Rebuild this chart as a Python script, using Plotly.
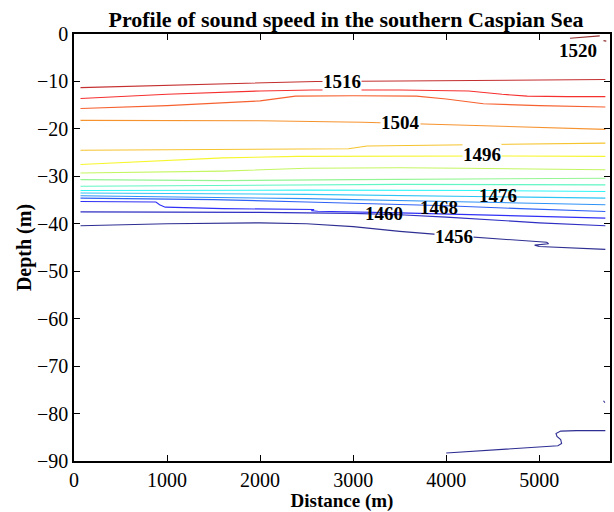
import plotly.graph_objects as go

# ---- data (distance in m, depth in m) ----
dist_1520 = [5330, 5500, 5650]
depth_1520 = [-0.9, -0.6, -0.4]
dist_1520b = [5690, 5720]
depth_1520b = [-1.4, -1.5]

dist_1516 = [70, 1000, 2000, 2600, 3500, 4500, 5710]
depth_1516 = [-11.3, -10.8, -10.3, -10.0, -9.9, -9.8, -9.6]

dist_1512 = [70, 1000, 2000, 2560, 3500, 4240, 4600, 4870, 5300, 5710]
depth_1512 = [-13.6, -12.7, -12.0, -11.8, -11.8, -12.0, -12.7, -13.1, -13.2, -13.2]

dist_1508 = [70, 1000, 2000, 2380, 3000, 3680, 4000, 4400, 5000, 5710]
depth_1508 = [-15.7, -15.1, -14.1, -13.1, -13.0, -13.1, -13.7, -14.7, -15.1, -15.4]

dist_1504 = [70, 1000, 2000, 3100, 3500, 4500, 5710]
depth_1504 = [-18.2, -18.2, -18.3, -18.6, -18.8, -19.4, -20.1]

dist_1500 = [70, 1500, 2500, 2950, 3150, 4000, 5000, 5710]
depth_1500 = [-24.5, -24.4, -24.3, -24.2, -23.6, -23.4, -23.2, -23.0]

dist_1496 = [70, 800, 1600, 2400, 3500, 4500, 5710]
depth_1496 = [-27.5, -26.8, -26.1, -25.8, -25.7, -25.7, -25.8]

dist_1492 = [70, 1600, 2500, 3500, 4200, 5000, 5710]
depth_1492 = [-29.3, -28.9, -28.3, -28.2, -28.3, -28.5, -28.6]

dist_1488 = [70, 1600, 3000, 4500, 5710]
depth_1488 = [-30.7, -30.9, -30.7, -30.5, -30.4]

dist_1484 = [70, 1600, 3500, 5710]
depth_1484 = [-32.1, -31.9, -31.7, -31.8]

dist_1480 = [70, 2500, 4500, 5710]
depth_1480 = [-33.0, -32.9, -33.0, -33.2]

dist_1476 = [70, 2500, 4500, 5710]
depth_1476 = [-33.5, -33.8, -34.3, -34.6]

dist_1472 = [70, 2500, 4000, 5710]
depth_1472 = [-34.1, -34.7, -35.3, -36.0]

dist_1468 = [70, 1500, 2500, 3500, 4000, 4800, 5710]
depth_1468 = [-34.6, -34.9, -35.4, -35.9, -36.2, -36.8, -37.4]

dist_1464 = [70, 880, 920, 980, 1600, 2500, 2580, 2550, 2620, 3500, 4500, 5710]
depth_1464 = [-35.3, -35.4, -36.0, -36.5, -36.8, -36.9, -37.0, -37.25, -37.35, -37.7, -38.2, -38.8]

dist_1460 = [70, 1000, 2000, 3000, 3500, 4000, 4500, 5000, 5710]
depth_1460 = [-37.5, -37.5, -37.6, -37.8, -38.1, -38.6, -39.2, -39.8, -40.4]

dist_1456 = [70, 1000, 2000, 2500, 3000, 3500, 4000, 4500, 4900, 5080, 5100, 4950, 5000, 5400, 5710]
depth_1456 = [-40.4, -40.0, -39.8, -40.0, -40.6, -41.6, -42.4, -43.1, -43.6, -43.9, -44.2, -44.5, -44.8, -45.1, -45.4]

dist_1456_deep = [4000, 5200, 5240, 5230, 5190, 5180, 5230, 5400, 5710]
depth_1456_deep = [-88.3, -86.8, -86.3, -85.5, -84.8, -84.2, -83.7, -83.6, -83.6]

dist_1456_dot = [5690, 5705]
depth_1456_dot = [-77.3, -77.7]

contour_levels = [1520, 1520, 1516, 1512, 1508, 1504, 1500, 1496, 1492, 1488,
                  1484, 1480, 1476, 1472, 1468, 1464, 1460, 1456, 1456, 1456]
contour_dist = [dist_1520, dist_1520b, dist_1516, dist_1512, dist_1508, dist_1504,
                dist_1500, dist_1496, dist_1492, dist_1488, dist_1484, dist_1480,
                dist_1476, dist_1472, dist_1468, dist_1464, dist_1460, dist_1456,
                dist_1456_deep, dist_1456_dot]
contour_depth = [depth_1520, depth_1520b, depth_1516, depth_1512, depth_1508, depth_1504,
                 depth_1500, depth_1496, depth_1492, depth_1488, depth_1484, depth_1480,
                 depth_1476, depth_1472, depth_1468, depth_1464, depth_1460, depth_1456,
                 depth_1456_deep, depth_1456_dot]

label_text = ["1520", "1516", "1504", "1496", "1476", "1468", "1460", "1456"]
label_dist = [5420, 2880, 3510, 4380, 4560, 3920, 3330, 4080]
label_depth = [-3.4, -10.0, -18.7, -25.5, -34.0, -36.6, -37.8, -42.6]
label_bg = [True, True, True, True, False, False, False, True]

x_ticks = [0, 1000, 2000, 3000, 4000, 5000]
y_ticks = [0, -10, -20, -30, -40, -50, -60, -70, -80, -90]

LMIN, LMAX = 1456, 1520


def jet(v, fade=0.22):
    t = (v - LMIN) / (LMAX - LMIN)
    def c(x):
        return max(0.0, min(1.0, x))
    r = c(1.5 - abs(4 * t - 3))
    g = c(1.5 - abs(4 * t - 2))
    b = c(1.5 - abs(4 * t - 1))
    rgb = [int(255 * (ch * (1 - fade) + 0.85 * fade)) for ch in (r, g, b)]
    return "rgb({},{},{})".format(*rgb)


FONT = "Liberation Serif"

fig = go.Figure()
for lev, xs, ys in zip(contour_levels, contour_dist, contour_depth):
    fig.add_trace(go.Scatter(x=xs, y=ys, mode="lines",
                             line=dict(color=jet(lev), width=1.1),
                             showlegend=False, hoverinfo="skip"))

for txt, lx, ly, bg in zip(label_text, label_dist, label_depth, label_bg):
    fig.add_annotation(x=lx, y=ly, text=f"<b>{txt}</b>", showarrow=False,
                       font=dict(family=FONT, size=19, color="black"),
                       bgcolor="white" if bg else "rgba(0,0,0,0)",
                       borderpad=0, xanchor="center", yanchor="middle")

axis_common = dict(
    showgrid=False, zeroline=False, showline=True, linecolor="black",
    linewidth=1.5, mirror="allticks", ticks="inside", ticklen=6,
    tickcolor="black", tickwidth=1,
    tickfont=dict(family=FONT, size=20, color="black"),
)

fig.update_layout(
    width=614, height=512,
    margin=dict(l=74, r=2, t=34, b=50),
    paper_bgcolor="white", plot_bgcolor="white",
    title=dict(text="<b>Profile of sound speed in the southern Caspian Sea</b>",
               x=346 / 614, xanchor="center", y=1 - 19 / 512, yanchor="middle",
               font=dict(family=FONT, size=22, color="black")),
    xaxis=dict(range=[0, 5760], tickvals=x_ticks,
               ticktext=[str(v) for v in x_ticks],
               title=dict(text="<b>Distance (m)</b>", standoff=6,
                          font=dict(family=FONT, size=19, color="black")),
               **axis_common),
    yaxis=dict(range=[-90, 0], tickvals=y_ticks,
               ticktext=[("\u2212" + str(-v)) if v < 0 else str(v) for v in y_ticks],
               title=dict(text="<b>Depth (m)</b>", standoff=0,
                          font=dict(family=FONT, size=20, color="black")),
               **axis_common),
)

fig.write_html("out.html")
